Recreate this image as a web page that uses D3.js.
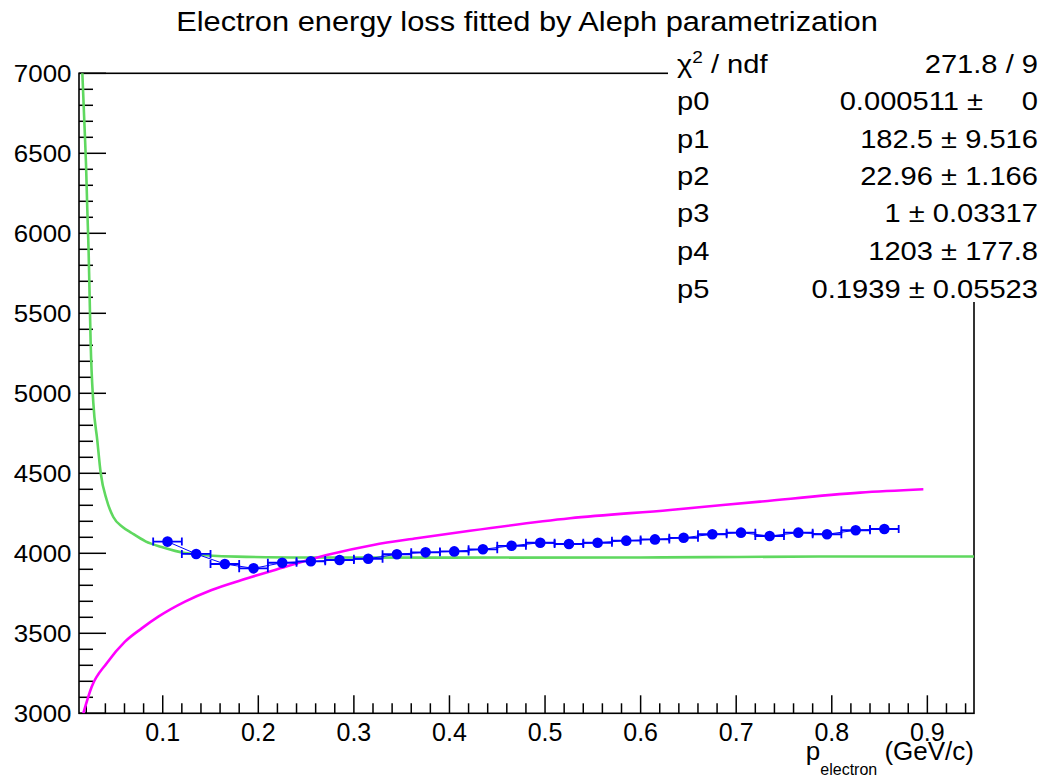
<!DOCTYPE html>
<html>
<head>
<meta charset="utf-8">
<script src="https://cdn.jsdelivr.net/npm/d3@7"></script>
<style>
  html, body { margin: 0; padding: 0; background: #fff; }
  svg { display: block; }
  text { font-family: "Liberation Sans", Arial, Helvetica, sans-serif; fill: #000; }
</style>
</head>
<body>
<svg id="chart" width="1047" height="778"></svg>
<script>
// Measured electron momentum bins (GeV/c) and mean dE/dx
const momentum = [0.105, 0.135, 0.165, 0.195, 0.225, 0.255, 0.285, 0.315, 0.345, 0.375,
                  0.405, 0.435, 0.465, 0.495, 0.525, 0.555, 0.585, 0.615, 0.645, 0.675,
                  0.705, 0.735, 0.765, 0.795, 0.825, 0.855];
const dedx = [4073, 3996, 3933, 3906, 3941, 3950, 3958, 3966, 3994, 4006,
              4012, 4025, 4047, 4066, 4058, 4066, 4079, 4087, 4097, 4119,
              4129, 4108, 4129, 4119, 4144, 4152];
const momentumErr = [0.015, 0.015, 0.015, 0.015, 0.015, 0.015, 0.015, 0.015, 0.015, 0.015,
                     0.015, 0.015, 0.015, 0.015, 0.015, 0.015, 0.015, 0.015, 0.015, 0.015,
                     0.015, 0.015, 0.015, 0.015, 0.015, 0.015];

// Green curve samples
const greenP = [0.0159, 0.0179, 0.0197, 0.0211, 0.0225, 0.0236, 0.0246, 0.0274, 0.0315,
                0.0351, 0.0414, 0.0483, 0.0580, 0.0675, 0.0820, 0.0989, 0.1233, 0.1774, 0.25, 0.4,
                0.6, 0.67, 0.8, 0.9488];
const greenDedx = [7002, 6708, 6439, 6146, 5877, 5583, 5314, 4939, 4708,
                   4502, 4333, 4227, 4165, 4127, 4075, 4039, 4002, 3979, 3974, 3973,
                   3974, 3976, 3980, 3980];

// Magenta curve samples
const magentaP = [0.0169, 0.0257, 0.0414, 0.0605, 0.0780, 0.0954, 0.1233, 0.1512, 0.1826,
                  0.2175, 0.2716, 0.3203, 0.3657, 0.4215, 0.5261, 0.6308, 0.7249, 0.8296, 0.8958];
const magentaDedx = [3000, 3166, 3313, 3448, 3531, 3604, 3698, 3771, 3833,
                     3896, 3989, 4052, 4094, 4141, 4219, 4271, 4323, 4379, 4400];

// Axis ticks
const xMajorTicks = [0.1, 0.2, 0.3, 0.4, 0.5, 0.6, 0.7, 0.8, 0.9];
const xTickLabels = ["0.1", "0.2", "0.3", "0.4", "0.5", "0.6", "0.7", "0.8", "0.9"];
const yMajorTicks = [3000, 3500, 4000, 4500, 5000, 5500, 6000, 6500, 7000];
const yTickLabels = ["3000", "3500", "4000", "4500", "5000", "5500", "6000", "6500", "7000"];

// Fit statistics
const statNames = ["p0", "p1", "p2", "p3", "p4", "p5"];
const statValues = ["0.000511", "182.5", "22.96", "1", "1203", "0.1939"];
const statErrors = ["0", "9.516", "1.166", "0.03317", "177.8", "0.05523"];
const chi2Text = "271.8 / 9";

const titleText = "Electron energy loss fitted by Aleph parametrization";

const svg = d3.select("#chart");
const frame = { left: 79, right: 974, top: 73.3, bottom: 713.3 };

const x = d3.scaleLinear().domain([0.0124, 0.9488]).range([frame.left, frame.right]);
const y = d3.scaleLinear().domain([3000, 7000]).range([frame.bottom, frame.top]);

svg.append("clipPath").attr("id", "plotClip")
  .append("rect")
  .attr("x", frame.left).attr("y", frame.top)
  .attr("width", frame.right - frame.left).attr("height", frame.bottom - frame.top);

// helper: horizontally widened text
function wideText(parent, px, py, str, size, anchor, sx) {
  const g = parent.append("g").attr("transform", `translate(${px},${py}) scale(${sx},1)`);
  return g.append("text").attr("x", 0).attr("y", 0)
    .attr("font-size", size).attr("text-anchor", anchor)
    .style("white-space", "pre").text(str);
}

// Title
wideText(svg, 527, 31, titleText, 28, "middle", 1.1);

// Frame
svg.append("rect")
  .attr("x", frame.left).attr("y", frame.top)
  .attr("width", frame.right - frame.left).attr("height", frame.bottom - frame.top)
  .attr("fill", "none").attr("stroke", "#000").attr("stroke-width", 1.6);

// X axis ticks (bottom side, pointing up)
const xMinor = d3.range(1, 48).map(i => i * 0.02).filter(v => v > 0.0124 && v < 0.9488);
const xAxis = svg.append("g");
xAxis.selectAll("line").data(xMinor).join("line")
  .attr("x1", d => x(d)).attr("x2", d => x(d))
  .attr("y1", frame.bottom).attr("y2", d => {
    const isMajor = xMajorTicks.some(t => Math.abs(t - d) < 1e-6);
    return frame.bottom - (isMajor ? 18 : 10);
  })
  .attr("stroke", "#000").attr("stroke-width", 1.5);
xAxis.selectAll("text").data(xMajorTicks).join("text")
  .attr("x", d => x(d)).attr("y", 741)
  .attr("font-size", 25).attr("text-anchor", "middle")
  .text((d, i) => xTickLabels[i]);

// Y axis ticks (left side, pointing right)
const yMinor = d3.range(3000, 7001, 100);
const yAxis = svg.append("g");
yAxis.selectAll("line").data(yMinor).join("line")
  .attr("x1", frame.left).attr("x2", d => frame.left + (d % 500 === 0 ? 27 : 14))
  .attr("y1", d => y(d)).attr("y2", d => y(d))
  .attr("stroke", "#000").attr("stroke-width", 1.5);
yAxis.selectAll("g.lbl").data(yMajorTicks).join("g")
  .attr("class", "lbl")
  .each(function (d, i) {
    wideText(d3.select(this), 71.5, y(d) + 8.8, yTickLabels[i], 24, "end", 1.08);
  });

// X axis title
const xt = svg.append("text").attr("x", frame.right).attr("y", 760)
  .attr("text-anchor", "end").attr("font-size", 26);
xt.append("tspan").text("p");
xt.append("tspan").attr("font-size", 16).attr("dy", 15).text("electron");
xt.append("tspan").attr("dy", -15).text(" (GeV/c)");

// Curves
const plot = svg.append("g").attr("clip-path", "url(#plotClip)");
const curveLine = d3.line().x(d => x(d[0])).y(d => y(d[1])).curve(d3.curveMonotoneX);

plot.append("path")
  .datum(greenP.map((p, i) => [p, greenDedx[i]]))
  .attr("d", curveLine)
  .attr("fill", "none").attr("stroke", "#5fd85f").attr("stroke-width", 2.6);

plot.append("path")
  .datum(magentaP.map((p, i) => [p, magentaDedx[i]]))
  .attr("d", curveLine)
  .attr("fill", "none").attr("stroke", "#ff00ff").attr("stroke-width", 2.6);

// Data graph: connecting line, error bars, markers
const pts = momentum.map((p, i) => ({ p, v: dedx[i], e: momentumErr[i] }));
plot.append("path")
  .datum(pts)
  .attr("d", d3.line().x(d => x(d.p)).y(d => y(d.v)))
  .attr("fill", "none").attr("stroke", "#0000ff").attr("stroke-width", 1);

const eb = plot.append("g").attr("stroke", "#0000ff").attr("stroke-width", 1.8);
eb.selectAll("line.h").data(pts).join("line").attr("class", "h")
  .attr("x1", d => x(d.p - d.e)).attr("x2", d => x(d.p + d.e))
  .attr("y1", d => y(d.v)).attr("y2", d => y(d.v));
eb.selectAll("line.l").data(pts).join("line").attr("class", "l")
  .attr("x1", d => x(d.p - d.e)).attr("x2", d => x(d.p - d.e))
  .attr("y1", d => y(d.v) - 4).attr("y2", d => y(d.v) + 4);
eb.selectAll("line.r").data(pts).join("line").attr("class", "r")
  .attr("x1", d => x(d.p + d.e)).attr("x2", d => x(d.p + d.e))
  .attr("y1", d => y(d.v) - 4).attr("y2", d => y(d.v) + 4);

plot.append("g").selectAll("circle").data(pts).join("circle")
  .attr("cx", d => x(d.p)).attr("cy", d => y(d.v)).attr("r", 5.3)
  .attr("fill", "#0000ff");

// Statistics box
const stats = svg.append("g");
stats.append("rect").attr("x", 668).attr("y", 46).attr("width", 379).attr("height", 256)
  .attr("fill", "#fff");

const rowY = [73, 110, 148, 185, 222, 260, 298];
const sFont = 26, sScale = 1.12;
// chi2 row
{
  const g = stats.append("g").attr("transform", `translate(677,${rowY[0]}) scale(${sScale},1)`);
  const t = g.append("text").attr("font-size", sFont);
  t.append("tspan").text("χ");
  t.append("tspan").attr("font-size", 17).attr("dy", -10).text("2");
  t.append("tspan").attr("dy", 10).text(" / ndf");
  wideText(stats, 1038, rowY[0], chi2Text, sFont, "end", sScale);
}
statNames.forEach((name, i) => {
  const yy = rowY[i + 1];
  wideText(stats, 677, yy, name, sFont, "start", sScale);
  if (statErrors[i] === "0") {
    wideText(stats, 983, yy, statValues[i] + " ±", sFont, "end", sScale);
    wideText(stats, 1038, yy, statErrors[i], sFont, "end", sScale);
  } else {
    wideText(stats, 1038, yy, statValues[i] + " ± " + statErrors[i], sFont, "end", sScale);
  }
});
</script>
</body>
</html>
